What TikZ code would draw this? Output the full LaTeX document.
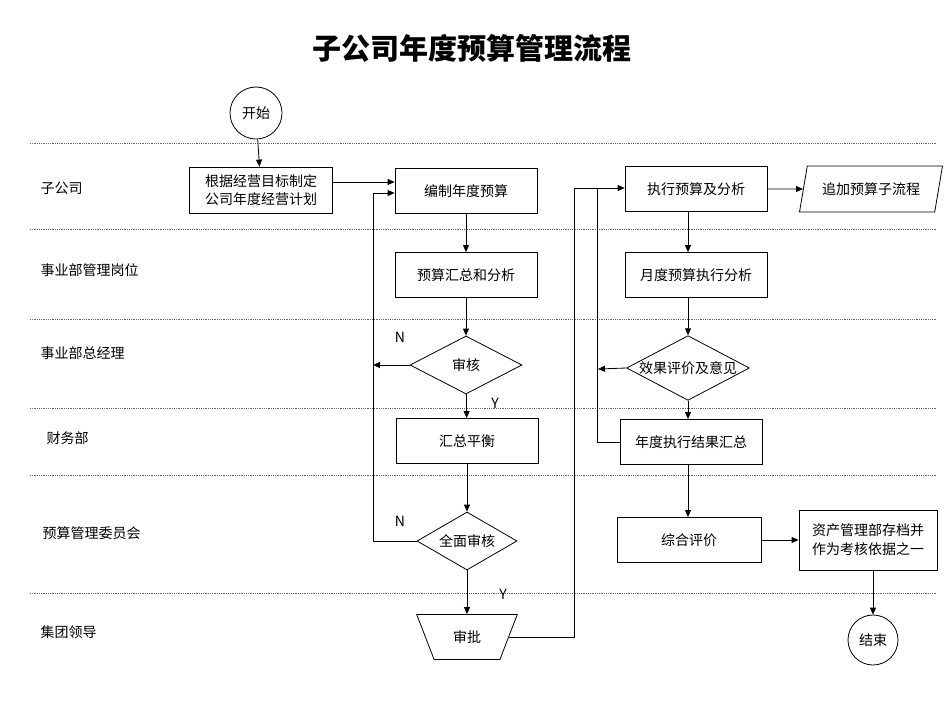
\documentclass[tikz,border=0pt]{standalone}
\usepackage{fontspec}
\setmainfont{Noto Sans CJK SC}
\usetikzlibrary{shapes.geometric,arrows.meta,positioning,calc}
\tikzset{
  box/.style={draw, thick, minimum width=142pt, minimum height=45pt, inner sep=1pt},
  chk/.style={draw, thick, diamond, aspect=1.9, inner sep=0pt},
  lane/.style={densely dotted, gray!80!black},
  flow/.style={-{Triangle[length=7pt,width=6pt]}, thick},
  lbl/.style={anchor=west, font=\fontsize{14}{16}\selectfont}
}
\begin{document}
\begin{tikzpicture}[x=1pt, y=-1pt, font=\fontsize{14}{17}\selectfont, line width=0.8pt]
    \useasboundingbox (0,0) rectangle (950,713);
    \node[font=\fontsize{29}{32}\selectfont\bfseries] (title) at (472,48) {子公司年度预算管理流程};

    % Lanes
    \foreach \y in {143,229,319,408,475,593} {
        \draw[lane] (30,\y) -- (937,\y);
    }
    \node[lbl] (l1) at (37,188) {子公司};
    \node[lbl] (l2) at (37,270) {事业部管理岗位};
    \node[lbl] (l3) at (37,353) {事业部总经理};
    \node[lbl] (l4) at (43,438) {财务部};
    \node[lbl] (l5) at (39,533) {预算管理委员会};
    \node[lbl] (l6) at (37,632) {集团领导};

    % Left column
    \node[draw, thick, circle, minimum size=52pt, inner sep=0pt] (start) at (256,113) {开始};
    \node[box, minimum width=143pt, minimum height=46pt, align=center, font=\fontsize{14}{18}\selectfont] (plan) at (261,190) {根据经营目标制定\\公司年度经营计划};
    \node[box] (make) at (466,191) {编制年度预算};
    \node[box] (sum) at (466,275) {预算汇总和分析};
    \node[chk, minimum width=112pt, minimum height=58pt] (rev) at (466,365) {审核};
    \node[box] (bal) at (467,441) {汇总平衡};
    \node[chk, minimum width=100pt, minimum height=58pt] (full) at (467,541) {全面审核};
    \node[draw, thick, trapezium, shape border rotate=180, trapezium stretches=true,
          trapezium angle=65, minimum width=101pt, minimum height=45pt] (appr) at (467,637) {审批};

    % Right column
    \node[box] (exec) at (696,189) {执行预算及分析};
    \node[draw, thick, trapezium, trapezium left angle=72, trapezium right angle=108,
          trapezium stretches=true, minimum width=143pt, minimum height=46pt] (add) at (871,189) {追加预算子流程};
    \node[box] (month) at (696,275) {月度预算执行分析};
    \node[chk, minimum width=113pt, minimum height=59pt] (eval) at (688,368) {效果评价及意见};
    \node[box] (year) at (691,442) {年度执行结果汇总};
    \node[box, minimum width=144pt] (comp) at (689,540) {综合评价};
    \node[box, minimum width=138pt, minimum height=60pt, align=left, font=\fontsize{14}{19}\selectfont] (arch) at (868,540) {资产管理部存档并\\作为考核依据之一};
    \node[draw, thick, circle, minimum size=50pt, inner sep=0pt] (end) at (873,640) {结束};

    % Connectors
    \draw[flow] (start) -- (plan);
    \draw[flow] (plan.east |- 0,182) -- (make.west |- 0,182);
    \draw[flow] (make) -- (sum);
    \draw[flow] (sum) -- (rev);
    \draw[flow] (rev) -- (bal);
    \draw[flow] (bal) -- (full);
    \draw[flow] (full) -- (appr);
    \coordinate (nA) at (373,365);
    \draw[flow] (rev.west) -- (nA);
    \draw[flow] (full.west) -| (373,193) -- (make.west |- 0,193);
    \node (n1) at (400,337) {N};
    \node (y1) at (495,403) {Y};
    \node (n2) at (400,521) {N};
    \node (y2) at (503,594) {Y};

    \draw[flow] (appr.east) -| (574,188) -- (exec.west |- 0,188);
    \draw[thick] (year.west) -| (597,188);
    \coordinate (nB) at (598,369);
    \draw[flow] (eval.west) -- (nB);
    \draw[flow] (exec) -- (add);
    \draw[flow] (exec.south -| 688,0) -- (month.north -| 688,0);
    \draw[flow] (month.south -| 688,0) -- (eval);
    \draw[flow] (eval) -- (year.north -| 688,0);
    \draw[flow] (year.south -| 688,0) -- (comp.north -| 688,0);
    \draw[flow] (comp) -- (arch);
    \draw[flow] (arch.south -| end) -- (end);
\end{tikzpicture}
\end{document}
